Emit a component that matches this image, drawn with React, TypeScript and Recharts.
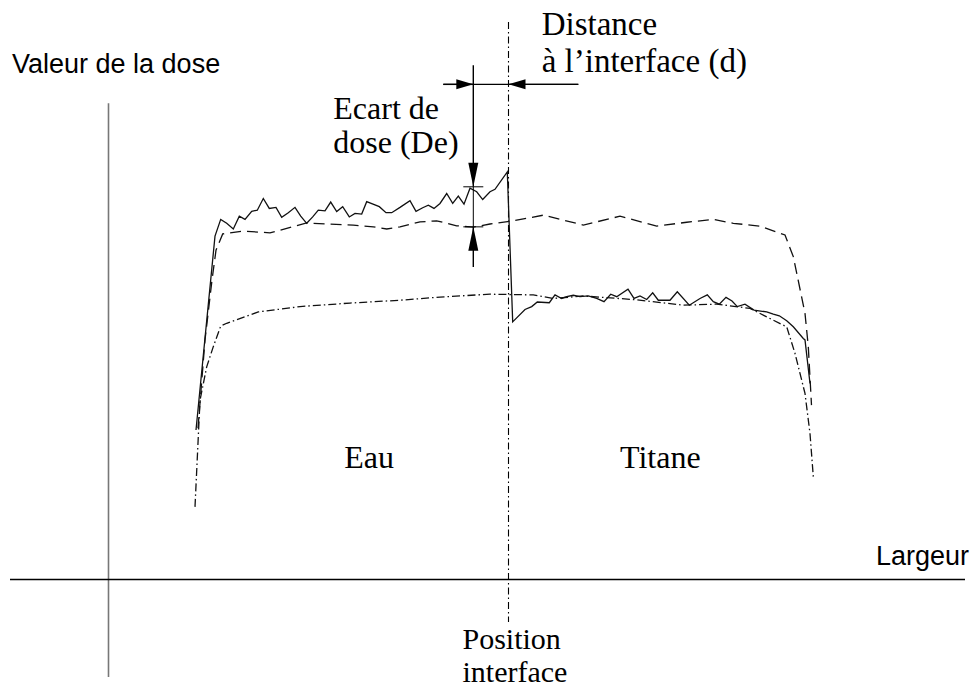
import { LineChart, Line, XAxis, YAxis, ReferenceLine, ReferenceDot } from "recharts";

// x: position across the width (mm, 0 = interface), y: dose (% of water plateau)
const mesureInterface: [number, number][] = [
  [-31.25, 42.2], [-29.35, 96.9], [-28.78, 101.6], [-28.18, 100.5], [-27.52, 98.9],
  [-26.92, 102.5], [-26.35, 101.6], [-25.68, 103.9], [-25.12, 104.2], [-24.52, 107.5],
  [-23.92, 104.7], [-23.25, 105.0], [-22.68, 102.2], [-22.02, 103.5], [-21.35, 105.0],
  [-20.78, 102.5], [-20.18, 100.5], [-19.58, 102.3], [-19.02, 104.2], [-18.35, 104.0],
  [-17.78, 106.5], [-17.18, 103.8], [-16.58, 105.2], [-15.92, 102.3], [-15.35, 103.3],
  [-14.68, 103.1], [-14.18, 106.6], [-12.92, 105.2], [-12.25, 103.5], [-11.68, 103.5],
  [-10.85, 105.0], [-9.85, 106.9], [-9.25, 103.9], [-8.58, 104.9], [-8.02, 105.6],
  [-7.45, 104.7], [-6.85, 106.1], [-6.18, 108.9], [-5.58, 106.1], [-5.02, 108.2],
  [-4.45, 105.9], [-3.85, 110.4], [-3.18, 109.4], [-2.58, 107.2], [-1.85, 109.4],
  [-1.35, 110.1], [-0.12, 115.0], [0.42, 72.7], [1.65, 76.2], [2.32, 77.0],
  [2.88, 78.3], [4.08, 78.1], [4.65, 80.3], [5.32, 79.3], [5.82, 79.8],
  [6.48, 80.2], [7.15, 79.8], [7.98, 80.0], [8.82, 79.3], [9.55, 78.4],
  [10.22, 80.5], [10.82, 79.8], [11.95, 81.9], [12.55, 79.3], [13.15, 80.0],
  [13.82, 79.0], [14.42, 80.9], [14.98, 78.8], [16.15, 78.8], [16.88, 81.2],
  [18.08, 77.4], [19.15, 79.3], [19.88, 80.3], [20.48, 78.4], [21.08, 77.7],
  [21.75, 79.6], [22.35, 78.6], [22.88, 77.0], [23.65, 77.7], [24.55, 76.0],
  [25.82, 75.5], [26.48, 74.9], [27.08, 74.4], [27.82, 73.0], [28.48, 71.3],
  [29.48, 68.0], [29.65, 67.6], [30.15, 55.3],
];

const eauSeule: [number, number][] = [
  [-31.05, 42.7], [-30.35, 67.6], [-29.65, 84.5], [-29.25, 92.9], [-28.58, 97.5],
  [-26.52, 98.3], [-23.85, 97.8], [-20.18, 100.6], [-18.18, 100.3], [-15.52, 100.0],
  [-13.52, 99.5], [-12.18, 98.9], [-10.85, 99.5], [-8.85, 100.9], [-7.18, 101.2],
  [-5.18, 99.8], [-3.52, 99.4], [-1.85, 100.3], [0.48, 101.2], [3.48, 102.8],
  [7.48, 100.0], [11.15, 102.5], [14.82, 99.7], [17.82, 100.8], [20.48, 101.6],
  [22.48, 100.5], [25.15, 99.7], [27.65, 97.2], [28.48, 91.1], [29.65, 75.1],
  [29.98, 65.7], [30.3, 49.2],
];

const titaneSeul: [number, number][] = [
  [-31.35, 20.5], [-30.85, 50.6], [-30.18, 60.0], [-29.52, 65.7], [-28.78, 71.5],
  [-28.18, 72.3], [-25.02, 75.5], [-20.85, 77.0], [-15.85, 78.0], [-10.85, 78.8],
  [-6.85, 79.7], [-1.85, 80.5], [2.48, 80.3], [4.48, 79.3], [7.48, 80.0],
  [12.48, 79.0], [17.48, 77.4], [20.82, 77.7], [24.15, 76.5], [25.82, 74.1],
  [27.82, 71.3], [28.65, 63.8], [29.65, 52.5], [30.15, 41.2], [30.48, 29.0],
];

const toRows = (pts: [number, number][]) => pts.map(([x, dose]) => ({ x, dose }));

const SERIF = "'Liberation Serif', 'DejaVu Serif', serif";
const SANS = "'Liberation Sans', Arial, sans-serif";

const texts = [
  { lines: ["Valeur de la dose"], x: -49.65, y: 142.8, font: SANS, size: 27, gap: 0 },
  { lines: ["Largeur"], x: 36.75, y: 4.1, font: SANS, size: 27, gap: 0 },
  { lines: ["Eau"], x: -16.42, y: 31.5, font: SERIF, size: 32, gap: 0 },
  { lines: ["Titane"], x: 11.15, y: 31.5, font: SERIF, size: 32, gap: 0 },
  { lines: ["Distance", "à l’interface (d)"], x: 3.32, y: 153.6, font: SERIF, size: 33, gap: 36.7 },
  { lines: ["Ecart de", "dose (De)"], x: -17.52, y: 129.8, font: SERIF, size: 32, gap: 34 },
  { lines: ["Position", "interface"], x: -4.6, y: -19.6, font: SERIF, size: 30, gap: 33 },
];

const Arrow = (p: any) => {
  const { x1, y1, x2, y2 } = p;
  const ang = Math.atan2(y2 - y1, x2 - x1);
  const len = Math.abs(y2 - y1) > Math.abs(x2 - x1) ? 24 : 17;
  const w = 5;
  const bx = x2 - len * Math.cos(ang);
  const by = y2 - len * Math.sin(ang);
  const nx = -Math.sin(ang) * w;
  const ny = Math.cos(ang) * w;
  return (
    <g>
      <line x1={x1} y1={y1} x2={x2} y2={y2} stroke="#000" strokeWidth={1.4} />
      <polygon points={`${x2},${y2} ${bx + nx},${by + ny} ${bx - nx},${by - ny}`} fill="#000" />
    </g>
  );
};

export default function App() {
  return (
    <div style={{ position: "absolute", left: 0, top: 0, width: 974, height: 688, background: "#fff" }}>
      <LineChart width={974} height={688} margin={{ top: 0, right: 0, bottom: 0, left: 0 }}>
        <XAxis type="number" dataKey="x" domain={[-50.85, 46.55]} hide allowDataOverflow />
        <YAxis type="number" domain={[-30.6, 163.5]} hide allowDataOverflow />

        {/* axes of the sketch */}
        <ReferenceLine segment={[{ x: -40, y: 134.4 }, { x: -40, y: -27.5 }]} stroke="#777" strokeWidth={1.6} />
        <ReferenceLine segment={[{ x: -49.85, y: 0 }, { x: 45.65, y: 0 }]} stroke="#000" strokeWidth={1.5} />
        <ReferenceLine
          segment={[{ x: 0, y: 157.3 }, { x: 0, y: -12 }]}
          stroke="#000"
          strokeWidth={1.1}
          strokeDasharray="7 3 1.5 3"
        />

        <Line data={toRows(eauSeule)} dataKey="dose" type="linear" dot={false} activeDot={false}
          stroke="#111" strokeWidth={1.3} strokeDasharray="11 6" isAnimationActive={false} />
        <Line data={toRows(titaneSeul)} dataKey="dose" type="linear" dot={false} activeDot={false}
          stroke="#111" strokeWidth={1.3} strokeDasharray="8 3 1.5 3" isAnimationActive={false} />
        <Line data={toRows(mesureInterface)} dataKey="dose" type="linear" dot={false} activeDot={false}
          stroke="#111" strokeWidth={1.3} isAnimationActive={false} />

        {/* distance to interface */}
        <ReferenceLine segment={[{ x: -6.52, y: 139.7 }, { x: 6.98, y: 139.7 }]} stroke="#000" strokeWidth={1.4} />
        <ReferenceLine segment={[{ x: -6.52, y: 139.7 }, { x: -3.52, y: 139.7 }]} shape={Arrow} />
        <ReferenceLine segment={[{ x: 6.98, y: 139.7 }, { x: 0, y: 139.7 }]} shape={Arrow} />

        {/* dose gap */}
        <ReferenceLine segment={[{ x: -3.52, y: 145.1 }, { x: -3.52, y: 110.8 }]} shape={Arrow} />
        <ReferenceLine segment={[{ x: -3.52, y: 110.8 }, { x: -3.52, y: 99.5 }]} stroke="#000" strokeWidth={1} />
        <ReferenceLine segment={[{ x: -3.52, y: 88.2 }, { x: -3.52, y: 99.5 }]} shape={Arrow} />
        <ReferenceLine segment={[{ x: -4.52, y: 110.8 }, { x: -2.52, y: 110.8 }]} stroke="#000" strokeWidth={1} />
        <ReferenceLine segment={[{ x: -4.52, y: 99.5 }, { x: -2.52, y: 99.5 }]} stroke="#000" strokeWidth={1} />

        {texts.map((t, i) => (
          <ReferenceDot
            key={i}
            x={t.x}
            y={t.y}
            r={0}
            ifOverflow="visible"
            shape={(p: any) => (
              <text x={p.cx} y={p.cy} fontFamily={t.font} fontSize={t.size} fill="#000">
                {t.lines.map((ln, j) => (
                  <tspan key={j} x={p.cx} dy={j === 0 ? 0 : t.gap}>
                    {ln}
                  </tspan>
                ))}
              </text>
            )}
          />
        ))}
      </LineChart>
    </div>
  );
}
